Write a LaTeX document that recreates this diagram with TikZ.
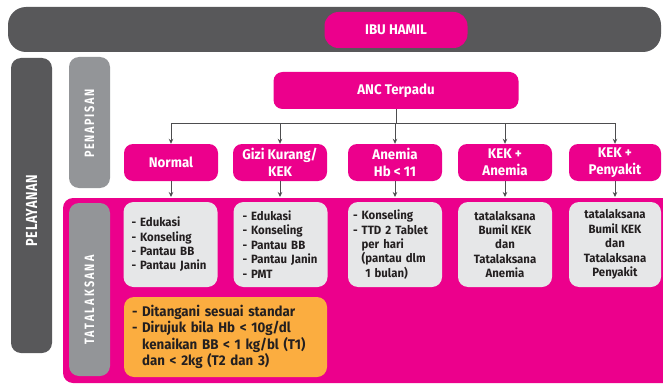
\documentclass[tikz,border=0pt]{standalone}
\usepackage{fontspec}
\setmainfont{Fira Sans}[FakeStretch=0.95]
\newfontfamily\barfont{Fira Sans}[FakeStretch=0.8]
\usepackage{xcolor}
\usetikzlibrary{arrows.meta}

\definecolor{ancpink}{HTML}{EC008C}
\definecolor{darkbar}{HTML}{58585A}
\definecolor{midbar}{HTML}{939598}
\definecolor{lightbox}{HTML}{E6E7E8}
\definecolor{orangebox}{HTML}{FBAD40}
\definecolor{inktext}{HTML}{231F20}
\definecolor{linegray}{HTML}{4D4D4F}

\newcommand{\skipdash}{\phantom{- }}

\begin{document}
\begin{tikzpicture}[x=1pt,y=-1pt,
    pinkbox/.style={fill=ancpink, text=white, rounded corners=9pt, align=center,
        inner sep=0pt, minimum width=94pt, minimum height=37pt,
        font=\bfseries\fontsize{14}{17}\selectfont},
    infobox/.style={fill=lightbox, text=inktext, rounded corners=10pt,
        inner sep=0pt, minimum width=94pt, minimum height=85pt,
        font=\bfseries\fontsize{12}{14.4}\selectfont},
    listbox/.style={infobox, align=left, inner xsep=#1, text width=94pt-2*#1},
    sidebar/.style={rounded corners=10pt, inner sep=0pt, minimum width=41pt},
    sidelabel/.style={rotate=90, text=white, inner sep=0pt},
    conn/.style={draw=linegray, line width=0.8pt, -{Stealth[length=5pt,width=4.5pt]}}]
    \useasboundingbox (0,0) rectangle (663,385);

    % top band
    \fill[darkbar, rounded corners=18pt] (8,7) rectangle (661,52);
    \node[pinkbox, rounded corners=14pt, minimum width=143pt, minimum height=36pt] (ibu) at (396,30) {IBU HAMIL};
    \node[pinkbox, minimum width=245pt] (anc) at (396,90.5) {ANC Terpadu};

    % side bars
    \node[sidebar, fill=darkbar, minimum height=295pt] (pelayanan) at (31.5,205.5) {};
    \node[sidebar, fill=midbar, minimum height=131pt] (penapisan) at (89.5,122.5) {};
    \node[sidelabel, font=\barfont\bfseries\fontsize{16}{18}\selectfont\addfontfeature{LetterSpace=4}]
        (pelayananlbl) at (31.5,210.5) {PELAYANAN};
    \node[sidelabel, font=\barfont\bfseries\fontsize{13.5}{15}\selectfont\addfontfeature{LetterSpace=12}]
        (penapisanlbl) at (89.5,123.5) {PENAPISAN};

    % tatalaksana area
    \fill[ancpink, rounded corners=10pt] (663,198) -- (63,198) -- (63,383) [sharp corners] -- (663,383) -- cycle;
    \coordinate (tlk) at (0,197);
    \node[sidebar, fill=midbar, minimum height=173pt] (tatalaksana) at (89.5,289.5) {};
    \node[sidelabel, font=\barfont\bfseries\fontsize{13.5}{15}\selectfont\addfontfeature{LetterSpace=16}]
        (tatalaksanalbl) at (89.5,300) {TATALAKSANA};

    % penapisan results
    \node[pinkbox] (normal) at (171,162.5) {Normal};
    \node[pinkbox] (gizi) at (280,162.5) {Gizi Kurang/\\KEK};
    \node[pinkbox] (anemia) at (395,162.5) {Anemia\\Hb < 11};
    \node[pinkbox] (kekan) at (505,162.5) {KEK +\\Anemia};
    \node[pinkbox, minimum width=92pt] (kekpen) at (615,162.5) {KEK +\\Penyakit};

    \coordinate (split) at (396,123);
    \foreach \k in {normal,gizi,anemia,kekan,kekpen}{
        \draw[conn] (anc.south) -- (anc.south |- split) -| (\k.north);
        \draw[conn] (\k.south) -- (\k.south |- tlk);
    }

    % tatalaksana boxes
    \node[listbox=8pt] (tnormal) at (170.5,244.5) {- Edukasi\\- Konseling\\- Pantau BB\\- Pantau Janin};
    \node[listbox=9pt] (tgizi) at (280.5,244.5) {- Edukasi\\- Konseling\\- Pantau BB\\- Pantau Janin\\- PMT};
    \node[listbox=5pt] (tanemia) at (395,244.5) {- Konseling\\- TTD 2 Tablet\\\skipdash per hari\\\skipdash (pantau dlm\\\skipdash\phantom{(}1 bulan)};
    \node[infobox, align=center] (tkekan) at (505,244.5) {tatalaksana\\Bumil KEK\\dan\\Tatalaksana\\Anemia};
    \node[infobox, align=center, minimum width=92pt] (tkekpen) at (615,244.5) {tatalaksana\\Bumil KEK\\dan\\Tatalaksana\\Penyakit};

    \node[fill=orangebox, text=inktext, rounded corners=10pt, inner xsep=8pt, inner ysep=0pt,
        text width=187pt, minimum height=80pt, align=left,
        font=\bfseries\fontsize{14}{16.3}\selectfont] (rujuk) at (225.5,337)
        {- Ditangani sesuai standar\\- Dirujuk bila Hb < 10g/dl\\\skipdash kenaikan BB < 1 kg/bl (T1)\\\skipdash dan < 2kg (T2 dan 3)};
\end{tikzpicture}
\end{document}
